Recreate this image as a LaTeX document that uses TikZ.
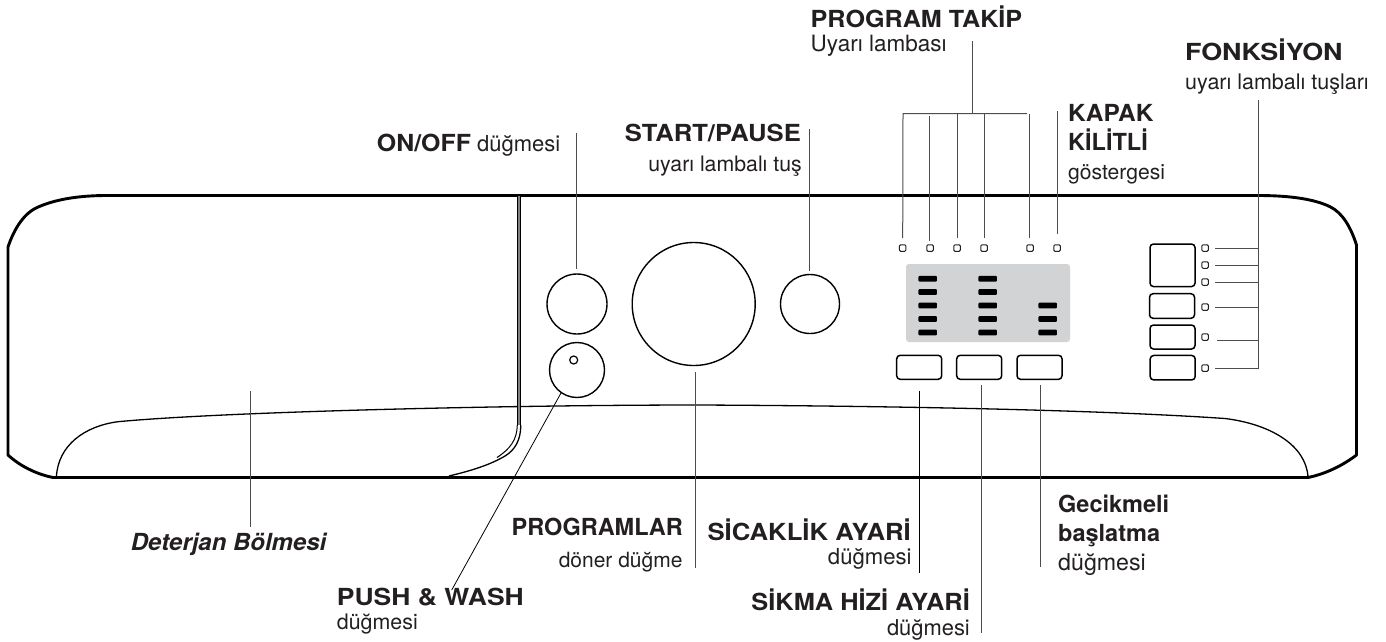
\documentclass[tikz,border=0pt]{standalone}
\usepackage{graphicx}
\usepackage{fontspec}
\setmainfont{TeX Gyre Heros}
\definecolor{ink}{HTML}{231F20}
\definecolor{leadg}{HTML}{4D4D4D}
\definecolor{panelg}{HTML}{D1D3D4}
\newcommand{\sz}[1]{\fontsize{#1}{#1}\selectfont}
\newcommand{\hs}[2]{\scalebox{#1}[1]{#2}}
\tikzset{
  x=1pt,y=-1pt,
  bold label/.style={anchor=base west,inner sep=0pt,text=ink,font=\sz{23.5}\bfseries},
  plain label/.style={anchor=base west,inner sep=0pt,text=ink},
  hull/.style={line width=2.9pt,black,line cap=round,line join=round},
  fine/.style={line width=1.3pt,black},
  leaderline/.style={line width=1pt,leadg},
  knob/.style={circle,draw=black,line width=1.4pt,inner sep=0pt,fill=white},
  keybox/.style={rectangle,draw=black,line width=1.5pt,rounded corners=3.5pt,inner sep=0pt},
  lamp/.style={rectangle,draw=ink,line width=1pt,rounded corners=1.2pt,inner sep=0pt,minimum size=6.5pt},
  segbar/.style={rectangle,fill=black,rounded corners=1pt,inner sep=0pt,minimum width=18.5pt,minimum height=5.7pt},
}
\newcommand{\keyat}[5]{\node[keybox,minimum width=#4pt,minimum height=#5pt] (#1) at (#2,#3) {};}
\begin{document}
\begin{tikzpicture}
\useasboundingbox (0,0) rectangle (1386,641);
% hull
\draw[hull] (107,195.5) -- (1258,195.5)
  .. controls (1285,195.5) and (1312,198) .. (1330,206.7)
  .. controls (1343,213) and (1351,228) .. (1356.5,245)
  -- (1356.5,455) .. controls (1342,466) and (1325,474) .. (1308,477.5)
  -- (53,477.5) .. controls (36,474) and (20,466) .. (8,455)
  -- (8,247) .. controls (13,232) and (22,215) .. (36,208)
  .. controls (55,199) and (80,195.5) .. (107,195.5) -- cycle;
% fascia curve
\draw[fine] (56.4,477) .. controls (58,445) and (85,426) .. (118,421.7)
  .. controls (220,412) and (500,405) .. (700,405)
  .. controls (900,406) and (1100,410) .. (1225,418.5)
  .. controls (1270,424) and (1306,445) .. (1308,477);
% door
\draw[line width=3.6pt,black] (519,195.5) -- (519,425);
\draw[line width=1.2pt,gray] (519,195.5) -- (519,425);
\draw[line width=1pt,black] (517.3,425) .. controls (517,440) and (510,449) .. (497,457.5);
\draw[fine] (520.8,425) .. controls (520.8,440) and (515,450) .. (505,456)
  .. controls (490,465) and (470,471) .. (449,476);
% knobs
\node[knob,minimum size=60pt] (onoff) at (577,304) {};
\node[knob,minimum size=55pt] (push) at (577,370) {};
\node[knob,minimum size=8pt,line width=1.2pt] (pushdot) at (573.7,360) {};
\node[knob,minimum size=123pt] (dial) at (693.7,304) {};
\node[knob,minimum size=59pt] (start) at (810,304) {};
% display
\node[rectangle,fill=panelg,rounded corners=3pt,inner sep=0pt,minimum width=164pt,minimum height=78pt] (display) at (988,303) {};
\foreach \c/\x in {a/927.7,b/987.7}
  \foreach \r/\y in {1/278.7,2/292,3/305.5,4/319,5/332.5}
    \node[segbar] (seg\c\r) at (\x,\y) {};
\foreach \r/\y in {3/305.5,4/319,5/332.5}
  \node[segbar] (segc\r) at (1047.7,\y) {};
% keys
\keyat{tempkey}{919.2}{367.3}{45}{24}
\keyat{spinkey}{979.2}{367.3}{45}{24}
\keyat{delaykey}{1039.5}{367.3}{45}{24}
\keyat{fnbig}{1172.5}{265.3}{45}{42.6}
\keyat{fntwo}{1172}{306}{45}{24.6}
\keyat{fnthree}{1172.5}{337}{45}{24}
\keyat{fnfour}{1172.7}{367.7}{45}{24.5}
% lamps
\foreach \n/\x in {pa/902.7,pb/930,pc/957,pd/984,pe/1030,lk/1057}
  \node[lamp] (\n) at (\x,248) {};
\foreach \n/\y in {fa/248,fb/265,fc/282,fd/307,fe/337,ff/368}
  \node[lamp] (\n) at (1205,\y) {};
% leaders
\coordinate (pstem) at (972,41);
\coordinate (pjoin) at (972,113.5);
\coordinate (pl) at (903,113.5);
\coordinate (pr) at (1027,113.5);
\coordinate (pbtop) at (929,116);
\coordinate (pctop) at (957.6,113.5);
\coordinate (pdtop) at (984,113.5);
\coordinate (petop) at (1029,114);
\coordinate (lktop) at (1057,111);
\coordinate (fnt) at (1258,100);
\coordinate (fnb) at (1258,368);
\draw[leaderline] (pstem) -- (pjoin);
\draw[leaderline] (pr) -- (pl) -- (902.7,238);
\draw[leaderline] (pbtop) -- (929,241);
\draw[leaderline] (pctop) -- (957.6,238);
\draw[leaderline] (pdtop) -- (984,238);
\draw[leaderline] (petop) -- (1029,238);
\draw[leaderline] (lktop) -- (1057,234);
\draw[leaderline] (fnt) -- (fnb) -- (1215,368);
\foreach \y/\s in {248.5/1215,265/1215,282/1215,307.5/1215,340/1217}
  \draw[leaderline] (1258,\y) -- (\s,\y);
\coordinate (onl) at (576,133);
\coordinate (stl) at (809,129);
\draw[leaderline] (onl) -- (576,269);
\draw[leaderline] (stl) -- (809,271);
\coordinate (doorl) at (250.5,391);
\coordinate (doorb) at (250.5,527);
\draw[leaderline] (doorl) -- (doorb);
\coordinate (pushl) at (561,393);
\coordinate (pushb) at (451.7,590);
\draw[leaderline,line width=.8pt,black] (pushl) -- (pushb);
\coordinate (diall) at (695,372);
\coordinate (dialb) at (695,568);
\draw[leaderline] (diall) -- (dialb);
\coordinate (templ) at (919,391);
\coordinate (tempb) at (919,573);
\draw[leaderline,black] (templ) -- (tempb);
\coordinate (spinl) at (981.5,385);
\coordinate (spinb) at (981.5,633);
\draw[leaderline] (spinl) -- (spinb);
\coordinate (dell) at (1040,385);
\coordinate (delb) at (1040,567);
\draw[leaderline] (dell) -- (delb);
% labels
\node[bold label] (l1) at (810.5,27.3) {\hs{1.07}{PROGRAM TAKİP}};
\node[plain label,font=\sz{22.5}] (l2) at (810.5,51.5) {Uyarı lambası};
\node[bold label] (l3) at (1185,60) {\hs{1.146}{FONKSİYON}};
\node[plain label,font=\sz{21.5}] (l4) at (1185,89.3) {uyarı lambalı tuşları};
\node[bold label] (l5) at (1068,121.7) {\hs{1.04}{KAPAK}};
\node[bold label] (l6) at (1068,150.7) {KİLİTLİ};
\node[plain label,font=\sz{21.1}] (l7) at (1068,179) {göstergesi};
\node[bold label,anchor=base east] (l8) at (801,141) {\hs{1.09}{START/PAUSE}};
\node[plain label,anchor=base east,font=\sz{21.3}] (l9) at (802,171.7) {uyarı lambalı tuş};
\node[plain label,font=\sz{22}] (l10) at (376.7,151.7) {\hs{1.06}{\sz{23.5}\bfseries ON/OFF} düğmesi};
\node[bold label,font=\sz{23.5}\bfseries\itshape] (l11) at (130.7,550) {\hs{1.02}{Deterjan Bölmesi}};
\node[bold label,anchor=base east] (l12) at (683,535) {PROGRAMLAR};
\node[plain label,anchor=base east,font=\sz{21}] (l13) at (682.7,567.7) {döner düğme};
\node[bold label,anchor=base east] (l14) at (911,540) {\hs{1.094}{SİCAKLİK AYARİ}};
\node[plain label,anchor=base east,font=\sz{22.1}] (l15) at (911.7,564) {düğmesi};
\node[bold label] (l16) at (1058,512.7) {Gecikmeli};
\node[bold label] (l17) at (1058,541.7) {başlatma};
\node[plain label,font=\sz{23.2}] (l18) at (1058,570) {düğmesi};
\node[bold label] (l19) at (336.7,605.7) {\hs{1.127}{PUSH \& WASH}};
\node[plain label,font=\sz{21.4}] (l20) at (336.7,629.3) {düğmesi};
\node[bold label,anchor=base east] (l21) at (970,610.7) {\hs{1.08}{SİKMA HİZİ AYARİ}};
\node[plain label,anchor=base east,font=\sz{21.9}] (l22) at (970,635) {düğmesi};
\end{tikzpicture}
\end{document}
